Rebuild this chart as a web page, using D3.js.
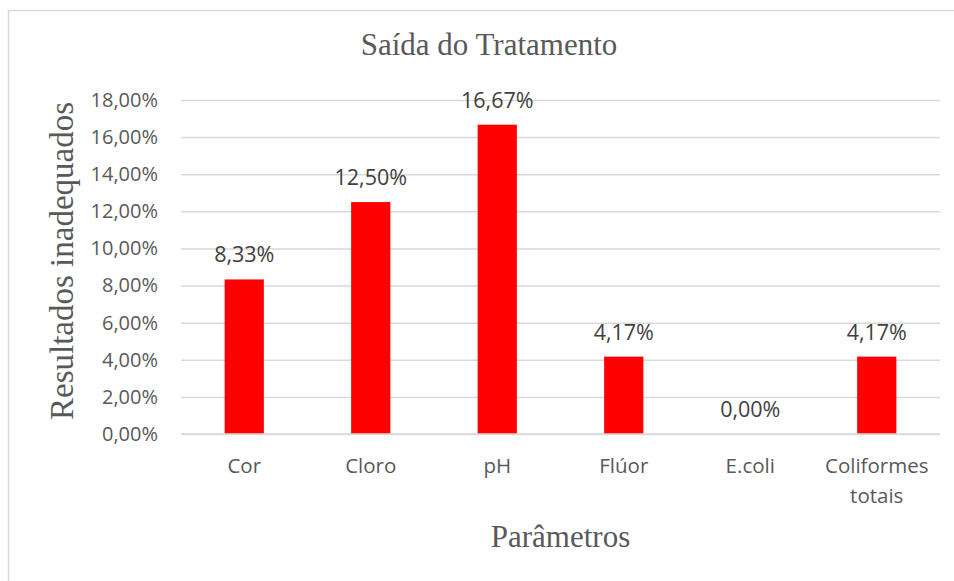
<!DOCTYPE html>
<html lang="pt">
<head>
<meta charset="utf-8">
<script src="https://cdn.jsdelivr.net/npm/d3@7"></script>
<style>
    body { margin: 0; background: #fff; }
</style>
</head>
<body>
<div id="chart"></div>
<script>
// Saída do Tratamento - resultados inadequados por parâmetro
const categories = ["Cor", "Cloro", "pH", "Flúor", "E.coli", "Coliformes totais"];
const values = [8.33, 12.50, 16.67, 4.17, 0.00, 4.17];
const yTicks = [0, 2, 4, 6, 8, 10, 12, 14, 16, 18];

const width = 954;
const height = 581;
const margin = { top: 100, right: 14, bottom: 147, left: 181 };

const fmt = v => v.toFixed(2).replace(".", ",") + "%";

const svg = d3.select("#chart").append("svg")
    .attr("width", width)
    .attr("height", height)
    .style("display", "block");

// chart border (only top and left are visible in the frame)
svg.append("rect")
    .attr("x", 8.5)
    .attr("y", 10.5)
    .attr("width", 980)
    .attr("height", 600)
    .attr("fill", "none")
    .attr("stroke", "#d9d9d9")
    .attr("stroke-width", 1.5);

const x = d3.scaleBand()
    .domain(categories)
    .range([margin.left, width - margin.right])
    .paddingInner(0)
    .paddingOuter(0);

const y = d3.scaleLinear()
    .domain([0, 18])
    .range([height - margin.bottom, margin.top]);

const barW = x.bandwidth() * 0.31;

// gridlines + tick labels
const yAxis = svg.append("g")
    .attr("transform", `translate(${margin.left},0)`)
    .call(d3.axisLeft(y)
        .tickValues(yTicks)
        .tickSize(-(width - margin.right - margin.left))
        .tickPadding(23)
        .tickFormat(fmt));

yAxis.select(".domain").remove();
yAxis.selectAll(".tick line")
    .attr("stroke", "#d9d9d9")
    .attr("stroke-width", 1.5);
yAxis.selectAll(".tick text")
    .attr("fill", "#595959")
    .style("font-family", "'Open Sans', sans-serif")
    .style("font-size", "20px");

// bars
svg.selectAll("rect.bar")
    .data(categories)
    .join("rect")
    .attr("class", "bar")
    .attr("x", (d, i) => x(d) + (x.bandwidth() - barW) / 2)
    .attr("y", (d, i) => y(values[i]))
    .attr("width", barW)
    .attr("height", (d, i) => y(0) - y(values[i]))
    .attr("fill", "#ff0000");

// baseline
svg.append("line")
    .attr("x1", margin.left)
    .attr("x2", width - margin.right)
    .attr("y1", y(0))
    .attr("y2", y(0))
    .attr("stroke", "#d9d9d9")
    .attr("stroke-width", 1.5);

// data labels
svg.selectAll("text.label")
    .data(categories)
    .join("text")
    .attr("class", "label")
    .attr("x", d => x(d) + x.bandwidth() / 2)
    .attr("y", (d, i) => y(values[i]) - 17)
    .attr("text-anchor", "middle")
    .attr("fill", "#404040")
    .style("font-family", "'Open Sans', sans-serif")
    .style("font-size", "21.5px")
    .text((d, i) => fmt(values[i]));

// category labels (wrapped)
const catText = svg.selectAll("text.cat")
    .data(categories)
    .join("text")
    .attr("class", "cat")
    .attr("text-anchor", "middle")
    .attr("fill", "#595959")
    .style("font-family", "'Open Sans', sans-serif")
    .style("font-size", "20.5px");

catText.each(function(d) {
    const lines = d === "Coliformes totais" ? ["Coliformes", "totais"] : [d];
    const t = d3.select(this);
    lines.forEach((l, i) => {
        t.append("tspan")
            .attr("x", x(d) + x.bandwidth() / 2)
            .attr("y", y(0) + 39 + i * 30)
            .text(l);
    });
});

// title
svg.append("text")
    .attr("x", 489)
    .attr("y", 55)
    .attr("text-anchor", "middle")
    .attr("fill", "#595959")
    .style("font-family", "'Liberation Serif', serif")
    .style("font-size", "31px")
    .text("Saída do Tratamento");

// axis titles
svg.append("text")
    .attr("x", (margin.left + width - margin.right) / 2)
    .attr("y", 547)
    .attr("text-anchor", "middle")
    .attr("fill", "#595959")
    .style("font-family", "'Liberation Serif', serif")
    .style("font-size", "31px")
    .text("Parâmetros");

svg.append("text")
    .attr("transform", "rotate(-90)")
    .attr("x", -261)
    .attr("y", 73)
    .attr("text-anchor", "middle")
    .attr("fill", "#595959")
    .style("font-family", "'Liberation Serif', serif")
    .style("font-size", "33px")
    .text("Resultados inadequados");
</script>
</body>
</html>
